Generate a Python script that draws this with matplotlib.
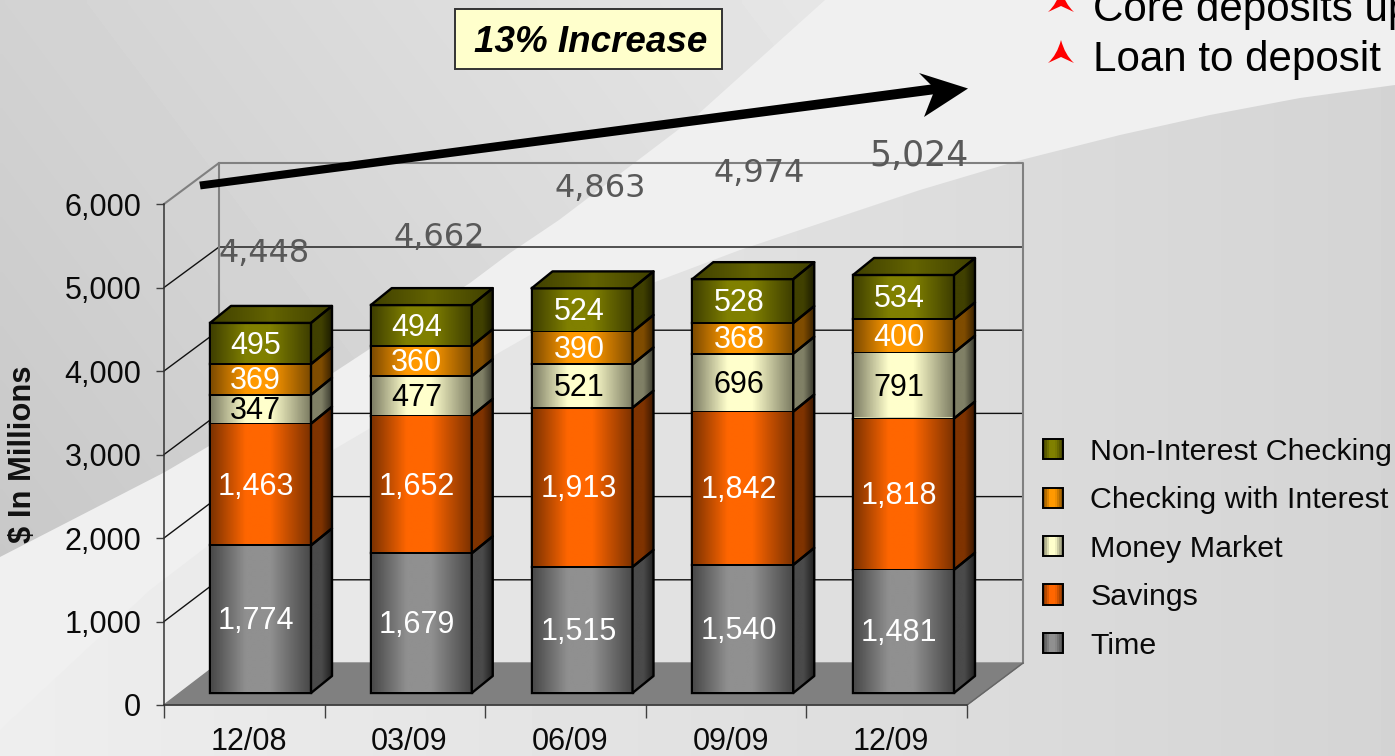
import numpy as np
import matplotlib
matplotlib.use("Agg")
import matplotlib.pyplot as plt
from matplotlib.colors import LinearSegmentedColormap, to_rgb
from matplotlib.patches import Rectangle, Polygon, PathPatch, Patch
from matplotlib.path import Path
from matplotlib.legend_handler import HandlerBase
from matplotlib.transforms import ScaledTranslation

plt.rcParams['font.family'] = ['Liberation Sans', 'DejaVu Sans']

# ---------- data ----------
periods = ['12/08', '03/09', '06/09', '09/09', '12/09']
time_dep = [1774, 1679, 1515, 1540, 1481]
savings = [1463, 1652, 1913, 1842, 1818]
money_market = [347, 477, 521, 696, 791]
checking_int = [369, 360, 390, 368, 400]
non_int = [495, 494, 524, 528, 534]
totals = ['4,448', '4,662', '4,863', '4,974', '5,024']
series_names = ['Time', 'Savings', 'Money Market', 'Checking with Interest', 'Non-Interest Checking']
series_values = [time_dep, savings, money_market, checking_int, non_int]
series_bright = ['#909090', '#ff6600', '#ffffcc', '#ff9900', '#808000']
series_dark = ['#4a4a4a', '#7f3300', '#808066', '#7f4c00', '#404000']
label_colors = ['white', 'white', 'black', 'white', 'white']
y_ticks = [0, 1000, 2000, 3000, 4000, 5000, 6000]

W, H = 1395, 756
fig = plt.figure(figsize=(W / 100, H / 100), dpi=100)

# ---------- background, pixel coordinates ----------
bg = fig.add_axes([0, 0, 1, 1], zorder=0)
bg.set_xlim(0, W)
bg.set_ylim(H, 0)
bg.set_autoscale_on(False)
bg.axis('off')

xx, yy = np.meshgrid(np.linspace(0, W, 280), np.linspace(0, H, 152))
t = np.clip((xx * 0.8 + (600 - yy) * 0.6 - 26) / 990, 0, 1)
bg.imshow(0xc8 + t * 30, cmap='gray', vmin=0, vmax=255, extent=(0, W, H, 0),
          aspect='auto', interpolation='bilinear', zorder=0)

bg.add_patch(Polygon([(0, 557), (165, 472), (333, 373), (470, 283), (510, 253), (559, 220), (695, 117),
                      (825, 0), (W, 0), (W, H), (0, H)], closed=True, fc='#f0f0f0', ec='none', zorder=1))
lower = Polygon([(W, 85), (1300, 98), (1210, 115), (1120, 135), (1021, 160), (920, 190), (824, 222),
                 (740, 250), (655, 282), (530, 335), (495, 355), (333, 450), (150, 590), (0, 730),
                 (0, H), (W, H)], closed=True, fc='none', ec='none', transform=bg.transData)
bg.add_patch(lower)
im = bg.imshow(np.linspace(0xee, 0xd4, 128).reshape(1, -1), cmap='gray', vmin=0, vmax=255,
               extent=(0, W, H, 0), aspect='auto', interpolation='bilinear', zorder=2)
im.set_clip_path(lower)

# floor and walls
bg.add_patch(Polygon([(164, 705), (219, 663), (1023, 663), (967, 705)], closed=True, fc='#808080',
                     ec='#808080', lw=1, zorder=3))
for v in y_ticks[1:-1]:
    bg.plot([164, 219, 1023], [705 - v * 0.0835, 663 - v * 0.0832, 663 - v * 0.0832],
            color='#111111', lw=1.0, zorder=3.1)
bg.plot([164, 219, 1023, 1023], [204, 163, 163, 663], color='#808080', lw=1.5, zorder=3.2)
bg.plot([219, 219], [163, 663], color='#808080', lw=1.5, zorder=3.2)
bg.plot([967, 1023], [705, 663], color='#666666', lw=1, zorder=3.2)

# trend arrow
bg.add_patch(Polygon([(199.3, 181.6), (200.6, 189.4), (936, 94), (935, 84)], closed=True, fc='black',
                     ec='none', zorder=4))
bg.add_patch(Polygon([(968, 88.5), (919, 73), (935, 89), (924, 117)], closed=True, fc='black', ec='none', zorder=4))

# callout
bg.add_patch(Rectangle((455, 9), 267, 60, fc='#ffffcc', ec='#333333', lw=1.4, zorder=4))
bg.text(590.5, 42, '13% Increase', fontsize=26.5, fontweight='bold', fontstyle='italic',
        ha='center', va='center', color='black', zorder=5)

# bullets
for dy, txt, base in [(-51, 'Core deposits up', 21), (0, 'Loan to deposit', 71)]:
    verts = [(1061, 40 + dy), (1065, 55 + dy), (1074, 63 + dy), (1061, 57 + dy), (1048, 63 + dy),
             (1057, 55 + dy), (1061, 40 + dy)]
    codes = [Path.MOVETO, Path.CURVE3, Path.CURVE3, Path.LINETO, Path.LINETO, Path.CURVE3, Path.CURVE3]
    bg.add_patch(PathPatch(Path(verts, codes), fc='#ff0000', ec='none', zorder=5))
    bg.text(1093, base, txt, fontsize=30.3, ha='left', va='baseline', color='black', zorder=5)

# ---------- front axis ----------
def fig_rect(x0, ytop, x1, ybot):
    return [x0 / W, 1 - ybot / H, (x1 - x0) / W, (ybot - ytop) / H]

ax_y = fig.add_axes(fig_rect(164, 204, 967, 705), zorder=1)
ax_y.patch.set_visible(False)
ax_y.set_ylim(0, 6000)
ax_y.set_xlim(-0.5, 4.5)
ax_y.set_yticks(y_ticks)
ax_y.set_yticklabels([f'{v:,}' for v in y_ticks], fontsize=22, color='#0a0a0a')
ax_y.set_xticks(np.arange(-0.5, 5, 1))
ax_y.set_xticklabels([])
ax_y.set_xticks(np.arange(5), labels=periods, minor=True, fontsize=22, color='#0a0a0a')
ax_y.tick_params(axis='y', length=5.8, width=1, pad=10.5, color='#404040')
ax_y.tick_params(axis='x', which='major', length=9, width=1, color='#404040')
ax_y.tick_params(axis='x', which='minor', length=0, pad=15.5)
shift = ScaledTranslation(4.5 / 100, 0, fig.dpi_scale_trans)
for lab in ax_y.get_xticklabels(minor=True):
    lab.set_transform(lab.get_transform() + shift)
for s in ('top', 'right'):
    ax_y.spines[s].set_visible(False)
for s in ('left', 'bottom'):
    ax_y.spines[s].set_color('#333333')
    ax_y.spines[s].set_linewidth(1.1)
ax_y.set_ylabel('$ In Millions', fontsize=22.3, fontweight='bold', color='#111111')
ax_y.yaxis.set_label_coords(-0.157, 0.5)

# ---------- bars: value scale with 0 at the bar baseline ----------
x_step = 160.75
x0_px = 260.5
y_scale = 0.0832
base_px = 693
ax = fig.add_axes([0, 0, 1, 1], zorder=2)
ax.patch.set_visible(False)
ax.set_xlim(-x0_px / x_step, (W - x0_px) / x_step)
ax.set_ylim((base_px - H) / y_scale, base_px / y_scale)
ax.set_autoscale_on(False)
ax.axis('off')

bar_w = 101 / x_step
dx = 21 / x_step
dy = 17 / y_scale
inset_x = 1.1 / x_step
inset_y = 1.1 / y_scale
ramp = np.linspace(0, 1, 96).reshape(1, -1)
edge_lw = 1.7
label_shift_px = [-5.0, -4.5, -3.0, -3.5, -4.5]


def mix(c1, c2, f):
    a, b = np.array(to_rgb(c1)), np.array(to_rgb(c2))
    return tuple(a + (b - a) * f)


def front_cmap(dark, bright):
    return LinearSegmentedColormap.from_list('f', [(0, dark), (0.35, bright), (0.6, bright), (1, dark)])


def clipped(poly, cmap, ext, z):
    ax.add_patch(poly)
    image = ax.imshow(ramp, cmap=cmap, vmin=0, vmax=1, extent=ext, aspect='auto',
                      interpolation='bilinear', zorder=z)
    image.set_clip_path(poly)


xs = np.arange(len(periods))
bottoms = np.zeros(len(periods))
for k, (vals, bright, dark, lc) in enumerate(zip(series_values, series_bright, series_dark, label_colors)):
    vals = np.array(vals)
    bars = ax.bar(xs, vals, bar_w, bottom=bottoms, color=bright, edgecolor='black', linewidth=edge_lw, zorder=3)
    cm_f = front_cmap(dark, bright)
    cm_s = LinearSegmentedColormap.from_list('s', [dark, dark, mix(dark, '#000000', 0.55)])
    cm_t = LinearSegmentedColormap.from_list('t', [dark, mix(dark, bright, 0.55), dark])
    for i, (rect, v) in enumerate(zip(bars, vals)):
        x, b = rect.get_x(), rect.get_y()
        top = b + v
        ax.imshow(ramp, cmap=cm_f, vmin=0, vmax=1, aspect='auto', interpolation='bilinear', zorder=3.1,
                  extent=(x + inset_x, x + bar_w - inset_x, b + inset_y, top - inset_y))
        xr = x + bar_w
        side = Polygon([(xr, b), (xr + dx, b + dy), (xr + dx, top + dy), (xr, top)], closed=True,
                       fc='none', ec='none', transform=ax.transData)
        clipped(side, cm_s, (xr, xr + dx, b, top + dy), 3.1)
        ax.add_patch(Polygon(side.get_xy(), closed=True, fc='none', ec='black', lw=edge_lw, zorder=3.2, joinstyle='round'))
        if k == len(series_values) - 1:
            roof = Polygon([(x, top), (x + dx, top + dy), (xr + dx, top + dy), (xr, top)], closed=True,
                           fc='none', ec='none', transform=ax.transData)
            clipped(roof, cm_t, (x, xr + dx, top, top + dy), 3.1)
            ax.add_patch(Polygon(roof.get_xy(), closed=True, fc='none', ec='black', lw=edge_lw, zorder=3.2, joinstyle='round'))
        ax.text(i + label_shift_px[i] / x_step, b + v / 2 + 1.5 / y_scale, f'{v:,}', color=lc, fontsize=22,
                ha='center', va='center_baseline', zorder=4)
    bottoms = bottoms + vals

# total labels, placed as in the source
tot_px = [(264, 253, 23.0), (439, 237, 23.0), (600, 188, 23.0), (759, 173, 23.0), (919, 156, 25.0)]
for lab, (px, py, fs) in zip(totals, tot_px):
    ax.text((px - x0_px) / x_step, (base_px - py) / y_scale, lab, family='DejaVu Sans', fontsize=fs,
            color='#595959', ha='center', va='center', zorder=5)


# ---------- legend ----------
class GradientHandler(HandlerBase):
    def create_artists(self, legend, orig, xd, yd, width, height, fontsize, trans):
        cm = front_cmap(orig.dark, orig.bright)
        n = 10
        arts = []
        for j in range(n):
            arts.append(Rectangle((-xd + width * j / n, -yd), width / n + 0.3, height, fc=cm((j + 0.5) / n),
                                  ec='none', transform=trans))
        arts.append(Rectangle((-xd, -yd), width, height, fc='none', ec='black', lw=1.4, transform=trans))
        return arts


handles = []
for name, bright, dark in zip(series_names, series_bright, series_dark):
    h = Patch(facecolor=bright, label=name)
    h.dark, h.bright = dark, bright
    handles.append(h)
handles = handles[::-1]
leg = ax.legend(handles=handles, handler_map={Patch: GradientHandler()}, frameon=False, fontsize=21.9,
                loc='upper left', bbox_to_anchor=(1043 / W, 1 - 438 / H), bbox_transform=fig.transFigure,
                borderpad=0, borderaxespad=0, handlelength=0.65, handleheight=0.65, handletextpad=0.9,
                labelspacing=0.67, labelcolor='#0a0a0a')
leg.set_zorder(6)

fig.savefig('out.png', dpi=100)
